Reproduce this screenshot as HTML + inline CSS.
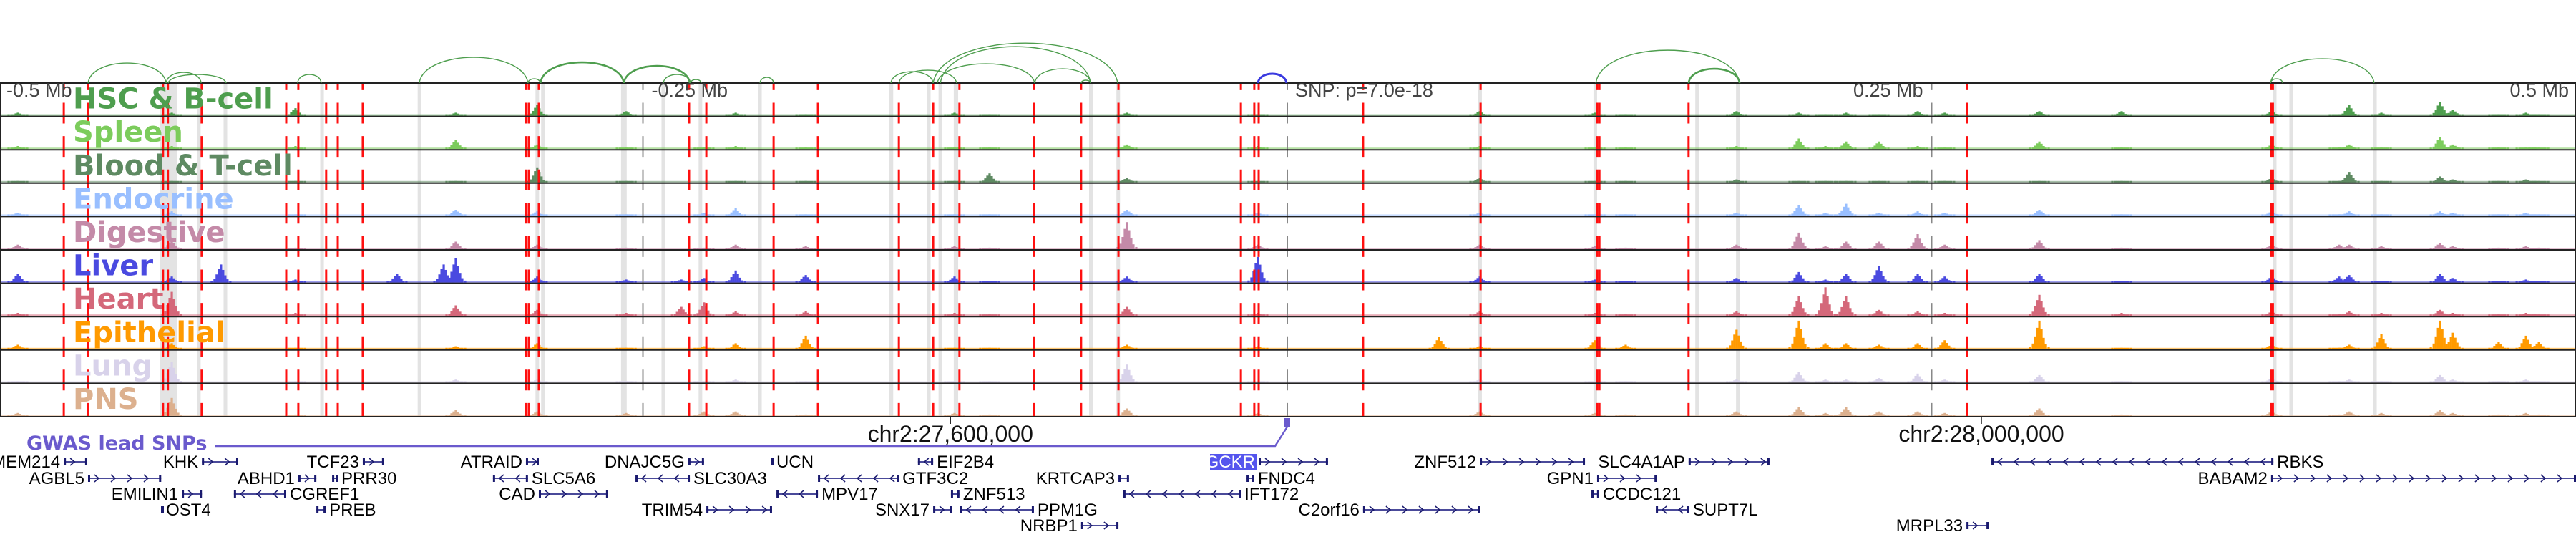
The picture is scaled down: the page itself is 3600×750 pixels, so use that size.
<!DOCTYPE html>
<html><head><meta charset="utf-8">
<style>
html,body{margin:0;padding:0;background:#fff;}
svg{display:block;font-family:"Liberation Sans","DejaVu Sans",sans-serif;}
</style></head>
<body>
<svg id="chart" width="3600" height="750" viewBox="0 0 3600 750" xmlns="http://www.w3.org/2000/svg">
<defs><clipPath id="trackClip"><rect x="0" y="116" width="3600" height="466"/></clipPath></defs>
<g id="bands" clip-path="url(#trackClip)"></g>
<g id="signals"></g>
<g id="vlines" clip-path="url(#trackClip)"></g>
<g id="frame"></g>
<g id="arcs"></g>
<g id="labels"></g>
<g id="axis"></g>
<g id="genes"></g>
</svg>
<script>
// ---- data (genomic offsets in kb relative to lead SNP) ----
const trackNames = ["HSC & B-cell","Spleen","Blood & T-cell","Endocrine","Digestive","Liver","Heart","Epithelial","Lung","PNS"];
const trackColors = ["#4e9e4e","#7ccc5c","#5e8a62","#99bfff","#c48aa8","#4a4ae0","#d4687a","#ff9a00","#d8d2ea","#dcb08e"];
const peakSites = [-492.5,-432.8,-413.7,-384.8,-345.4,-327.3,-322.6,-291.0,-256.5,-235.1,-226.3,-214.0,-186.8,-129.1,-115.5,-62.2,-11.4,58.9,74.7,119.4,131.3,174.3,198.5,208.8,216.8,229.6,244.6,255.1,291.8,323.7,382.0,408.1,412.0,424.5,447.3,452.3,470.0,480.6,485.6];
const hscValues = [1,1,0,2.5,0,0,1,3.5,1.5,0,0,1,0.5,1,0.5,1,0.5,0,1.5,1,0.5,1.5,1,0.5,1,0.5,1.5,1,1.5,1.5,1.5,0.5,3.5,1,4.5,2,0.5,1,0.5];
const spleenValues = [1,1,0,1,0,0,3,1.5,0.5,0,0.5,1,0.5,0.5,0.5,1.5,1,0,1,0.5,0.5,1,3.5,1,2.5,2.5,1,0.5,2.5,0.5,1.5,0.5,1.5,0.5,4,1.5,0.5,0.5,0.5];
const bloodValues = [0.5,0.5,0,0.5,0,0,0.5,5,0.5,0,0,0.5,0.5,0.5,3,1.5,0.5,0,1.5,0.5,0.5,1,0.5,0.5,0.5,0.5,0.5,0.5,0.5,0.5,1.5,0.5,3.5,0.5,2,1,0.5,1,0.5];
const endocrineValues = [1,1.5,0,0.5,0,0,2,1.5,0.5,0,1,2.5,0.5,0.5,0.5,2,1,0,1,0.5,0.5,1,3.5,1,4,1,1.5,1,2,0.5,1.5,0.5,1.5,0.5,1.5,1,0.5,1,0.5];
const digestiveValues = [1.5,3,0,0.5,0,0,2.5,1.5,0.5,0,0.5,1.5,1,1,0.5,9,1.5,0,1.5,1,0.5,1.5,5.5,1,2.5,2.5,5,1.5,3,0.5,1.5,1.5,1.5,1,2,1,0.5,1,0.5];
const liverValues = [3,2,6,1,3,6,8,2,1,1,1.5,4,2.5,2,0.5,2,8.5,0,2,1,0.5,1.5,3.5,1,3,5.5,3,2,3,0.5,2,2,2.5,0.5,3,1.5,0.5,1,0.5];
const heartValues = [1,8,0,1,0,0,3.5,2,1,3,4.5,1.5,1.5,1,0.5,3,1,0,1.5,1,0.5,1.5,6.5,9.5,6.5,2,1.5,1,7,1,1.5,0.5,1.5,1,2,1,0.5,1,0.5];
const epithelialValues = [1.5,2,0,0.5,0,0,1,2,0.5,0,1,2,4.5,0.5,0.5,1.5,1,4,1,3,1.5,6.5,9.5,2,2,1.5,2,3,9.5,0.5,1.5,0.5,1.5,5,9.5,5.5,2.5,4.5,2.5];
const lungValues = [0.5,7,0,0.5,0,0,1,1,0.5,0,0.5,1,0.5,0.5,0.5,6,0.5,0,1,0.5,0.5,1,3.5,1,1,1.5,3,1,2.5,0.5,1.5,0.5,1,0.5,2.5,1,0.5,1,0.5];
const pnsValues = [1,6,0,0.5,0,0,2,1.5,1,0,1.5,1.5,0.5,1,0.5,2.5,1,0,1.5,1,0.5,1.5,3,1,3,1.5,1.5,1,2.5,0.5,1.5,0.5,1.5,1,2,1,0.5,1,0.5];
const trackValues = [hscValues,spleenValues,bloodValues,endocrineValues,digestiveValues,liverValues,heartValues,epithelialValues,lungValues,pnsValues];
const snpPositions = [-474.7,-465.3,-436.2,-434.3,-421.2,-388.4,-383.7,-372.9,-368.4,-358.7,-295.4,-294.3,-290.4,-232.1,-225.4,-199.3,-182.1,-150.7,-137.4,-127.2,-98.3,-80.0,-65.5,-18.0,-12.8,-11.1,29.4,75.0,120.3,121.1,155.7,263.7,381.6,382.4];
const bandIntervals = [[-437.4,-436.3],[-437.0,-430.6],[-423.0,-421.6],[-412.7,-411.3],[-375.2,-373.8],[-337.4,-336.0],[-291.7,-290.3],[-289.5,-288.1],[-258.5,-256.3],[-242.8,-241.4],[-228.4,-227.0],[-205.3,-203.9],[-154.6,-152.9],[-139.8,-138.4],[-135.3,-133.9],[-129.4,-127.7],[-76.9,-75.5],[-66.3,-64.9],[74.1,75.5],[118.8,120.2],[158.3,159.7],[174.1,175.5],[382.4,383.8],[388.8,390.2],[421.3,422.7]];
const axisTicksKb = [-250,0,250];
const mbLabels = ["-0.5 Mb","-0.25 Mb","SNP: p=7.0e-18","0.25 Mb","0.5 Mb"];
const mbLabelKb = [-500,-250,0,250,500];
const chromTicksKb = [-130.7,269.3];
const chromTickLabels = ["chr2:27,600,000","chr2:28,000,000"];
const arcStarts = [-465.3,-435.0,-434.2,-384.0,-336.8,-294.6,-289.8,-257.4,-242.1,-231.5,-204.6,-153.8,-150.7,-137.4,-134.6,-135.8,-98.0,-80.0,119.7,155.7,381.5,381.5];
const arcEnds   = [-435.0,-421.4,-411.7,-374.8,-294.6,-289.8,-257.4,-231.8,-231.5,-227.4,-199.3,-137.4,-128.3,-65.8,-76.3,-98.0,-76.3,-76.3,175.5,175.5,421.7,386.2];
const arcHeights= [28,15,12,12,36,6,29,24,12,5,8,16,18,56,51,27,20,4,46,20,34,6];
const arcStrength=[1,1,1,1,1,1,2,2,1,1,1,1,1,1,1,1,1,1,1,2,1,1];
const blueArc = [-11.4,-0.3,13];
const geneNames  = ["TMEM214","AGBL5","EMILIN1","OST4","KHK","ABHD1","CGREF1","TCF23","PRR30","PREB","ATRAID","SLC5A6","CAD","DNAJC5G","SLC30A3","TRIM54","UCN","MPV17","GTF3C2","EIF2B4","ZNF513","SNX17","PPM1G","NRBP1","KRTCAP3","GCKR","FNDC4","IFT172","C2orf16","ZNF512","GPN1","CCDC121","SLC4A1AP","SUPT7L","RBKS","BABAM2","MRPL33"];
const geneStarts = [-474.7,-465.3,-428.9,-436.7,-421.1,-383.7,-408.7,-358.7,-370.6,-376.7,-295.4,-308.2,-290.4,-232.4,-252.9,-225.4,-199.9,-198.2,-182.1,-143.3,-130.5,-137.4,-126.9,-80.0,-65.5,-11.1,-15.8,-63.6,29.4,74.7,120.2,118.0,155.7,143.0,273.2,381.7,263.5];
const geneEnds   = [-465.6,-436.9,-421.1,-436.4,-407.0,-376.7,-388.4,-350.4,-368.4,-373.1,-290.4,-294.6,-263.5,-226.3,-231.8,-199.9,-199.6,-182.1,-150.7,-137.4,-127.2,-130.2,-98.3,-65.5,-61.4,15.8,-12.8,-18.0,74.7,115.5,143.3,121.0,187.1,156.0,382.6,505,272.1];
const geneStrand = ["+","+","+","+","+","+","-","+","-","-","+","-","+","+","-","+","-","-","-","-","-","+","-","+","+","+","-","-","+","+","+","-","+","-","-","+","+"];
const geneRow    = [0,1,2,3,0,1,2,0,1,3,0,1,2,0,1,3,0,2,1,0,2,3,3,4,1,0,1,2,3,0,1,2,0,3,0,1,4];
const geneLabelLeft = [1,1,1,0,1,1,0,1,0,0,1,0,1,1,0,1,0,0,0,0,0,1,0,1,1,1,0,0,1,1,1,0,1,0,0,1,1];

// ---- scales ----
const NS="http://www.w3.org/2000/svg";
const X0=1799, PXKB=3.602;
function xs(kb){return X0+kb*PXKB;}
const TOP=116, TH=46.6, NT=10;
function mk(tag,attrs,parent){const e=document.createElementNS(NS,tag);for(const k in attrs)e.setAttribute(k,attrs[k]);parent.appendChild(e);return e;}
const gB=document.getElementById('bands'),gS=document.getElementById('signals'),gV=document.getElementById('vlines'),
gF=document.getElementById('frame'),gA=document.getElementById('arcs'),gL=document.getElementById('labels'),
gX=document.getElementById('axis'),gG=document.getElementById('genes');

// bands
bandIntervals.forEach(b=>{
 const r=mk('rect',{x:xs(b[0]),y:TOP,width:Math.max(3,xs(b[1])-xs(b[0])),height:TH*NT,fill:'#e3e3e3'},gB);
 
 
});

// signals
const shape=[[0,1],[-3,0.75],[3,0.7],[-6,0.45],[6,0.4],[-9,0.2],[9,0.18],[-13,0.08],[13,0.08]];
trackValues.forEach((vals,t)=>{
 const g=mk('g',{fill:trackColors[t]},gS);
 
 
 const base=TOP+TH*(t+1)-1;
 const bl=mk('rect',{x:0,y:base-2,width:3600,height:2,opacity:0.55},g);
 
 
 vals.forEach((v,i)=>{
  if(v<=0)return;
  const cx=xs(peakSites[i]);
  shape.forEach(s=>{
   const h=Math.max(2,v*4.2*s[1]);
   const r=mk('rect',{x:cx+s[0]-1.6,y:base-h,width:3.2,height:h},g);
   
   
  });
 });
});

// red dashed SNP lines
snpPositions.forEach(kb=>{
 const l=mk('line',{x1:xs(kb),x2:xs(kb),y1:TOP+27.5-TH,y2:TOP+TH*NT+10,stroke:'#ff1010','stroke-width':3,'stroke-dasharray':'29 17.6'},gV);
 
 
});
axisTicksKb.forEach(kb=>{
 const l=mk('line',{x1:xs(kb),x2:xs(kb),y1:TOP+27.5-TH,y2:TOP+TH*NT+10,stroke:'#888','stroke-width':2,'stroke-dasharray':'29 17.6'},gV);
 
 
});

// frame
for(let i=0;i<=NT;i++){
 const l=mk('line',{x1:0,x2:3600,y1:TOP+TH*i,y2:TOP+TH*i,stroke:'#222','stroke-width':2},gF);
 
 
}
[1,3599].forEach(x=>{const l=mk('line',{x1:x,x2:x,y1:TOP,y2:TOP+TH*NT,stroke:'#222','stroke-width':2},gF);
 
 });

// arcs
function arcPath(a,b,h){const x1=xs(a),x2=xs(b);const m=(x1+x2)/2;return `M${x1},${TOP} C${x1+(m-x1)*0.1},${TOP-h*1.33} ${x2-(x2-m)*0.1},${TOP-h*1.33} ${x2},${TOP}`;}
arcStarts.forEach((s,i)=>{
 const p=mk('path',{d:arcPath(s,arcEnds[i],arcHeights[i]),fill:'none',stroke:'#4e9e4e','stroke-width':arcStrength[i]>1?2.6:1.4},gA);
 
 
});
const ba=mk('path',{d:arcPath(blueArc[0],blueArc[1],blueArc[2]),fill:'none',stroke:'#3a3ae0','stroke-width':3},gA);



// track labels
trackNames.forEach((n,t)=>{
 const tx=mk('text',{x:102,y:TOP+TH*(t+1)-11,fill:trackColors[t],'font-size':40,'font-weight':'bold','font-family':'"DejaVu Sans","Liberation Sans",sans-serif'},gL);
 tx.textContent=n;
 
 
});

// Mb labels
mbLabels.forEach((s,i)=>{
 const kb=mbLabelKb[i];let x=xs(kb),anchor='start';
 if(kb===-500)x=9; else if(kb===-250)x=xs(kb)+12; else if(kb===0)x=xs(kb)+11;
 else if(kb===250){x=xs(kb)-12;anchor='end';} else {x=3590;anchor='end';}
 const t=mk('text',{x:x,y:135,'font-size':27,fill:'#444','text-anchor':anchor},gX);
 t.textContent=s;
 
 
});
chromTicksKb.forEach((kb,i)=>{
 const l=mk('line',{x1:xs(kb),x2:xs(kb),y1:582,y2:592,stroke:'#222','stroke-width':1.5},gX);
 
 
 const t=mk('text',{x:xs(kb),y:617,'font-size':32,fill:'#111','text-anchor':'middle'},gX);
 t.textContent=chromTickLabels[i];
 
 
});
// GWAS
const gw=mk('text',{x:37,y:628,'font-size':27,'font-weight':'bold',fill:'#6a5acd','font-family':'"DejaVu Sans","Liberation Sans",sans-serif'},gX);
gw.textContent="GWAS lead SNPs";


const gp=mk('polyline',{points:`300,623 ${xs(0)-17},623 ${xs(0)},596`,fill:'none',stroke:'#6a5acd','stroke-width':2.5},gX);


const gr=mk('rect',{x:xs(0)-4,y:584,width:8,height:12,fill:'#6a5acd'},gX);



// genes
const rowY=[653,676,698,720,742];
geneNames.forEach((n,i)=>{
 const g=mk('g',{},gG);
 
 
 const x1=xs(geneStarts[i]),x2=Math.min(3600,xs(geneEnds[i]));const y=rowY[geneRow[i]]-8;
 mk('line',{x1:x1,x2:Math.max(x2,x1+2),y1:y,y2:y,stroke:'#4a4a9a','stroke-width':2},g);
 mk('rect',{x:x1,y:y-5,width:3,height:10,fill:'#1a1a6e'},g);
 mk('rect',{x:Math.max(x2,x1+2)-3,y:y-5,width:3,height:10,fill:'#1a1a6e'},g);
 for(let cx=x1+12;cx<x2-6;cx+=23){
  const d=geneStrand[i]==='+'?`M${cx-3},${y-5} L${cx+3},${y} L${cx-3},${y+5}`:`M${cx+3},${y-5} L${cx-3},${y} L${cx+3},${y+5}`;
  mk('path',{d:d,fill:'none',stroke:'#1a1a6e','stroke-width':1.5},g);
 }
 const left=geneLabelLeft[i]===1;
 const tx=left?x1-5:x2+5;
 if(n==='GCKR'){
  mk('rect',{x:1691,y:634,width:66,height:22,fill:'#5555ee'},g);
 }
 const t=mk('text',{x:tx,y:rowY[geneRow[i]],'font-size':24,fill:n==='GCKR'?'#fff':'#000','text-anchor':left?'end':'start'},g);
 t.textContent=n;
 
 
});
</script>
</body></html>
